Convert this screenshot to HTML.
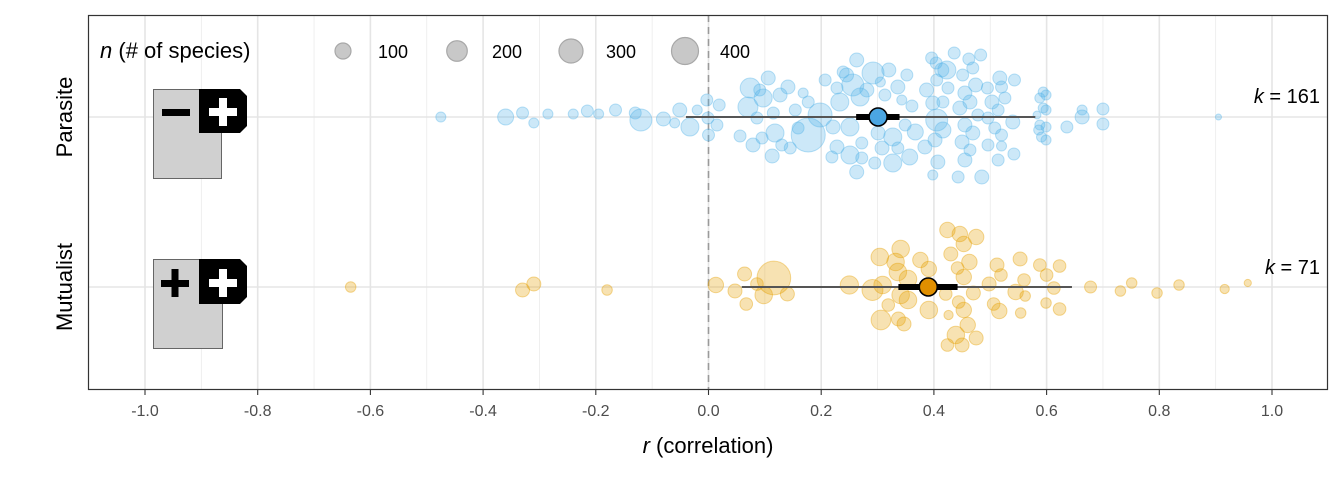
<!DOCTYPE html>
<html><head><meta charset="utf-8"><style>
body{margin:0;background:#fff}
svg{display:block;font-family:"Liberation Sans",sans-serif}
</style></head><body>
<svg id="chart" width="1344" height="480" viewBox="0 0 1344 480">
<rect x="0" y="0" width="1344" height="480" fill="#fff"/>
<g id="grid"></g>
<g id="marks"></g>
<rect x="88.5" y="15.5" width="1239" height="374" fill="none" stroke="#333" stroke-width="1.2"/>
<g id="axis"></g>
<text x="708" y="453" font-size="22" text-anchor="middle" fill="#000"><tspan font-style="italic">r</tspan> (correlation)</text>
<text transform="translate(72,117) rotate(-90)" font-size="22" text-anchor="middle">Parasite</text>
<text transform="translate(72,287) rotate(-90)" font-size="22" text-anchor="middle">Mutualist</text>
<text x="1320" y="103" font-size="20" text-anchor="end"><tspan font-style="italic">k</tspan> = 161</text>
<text x="1320" y="274" font-size="20" text-anchor="end"><tspan font-style="italic">k</tspan> = 71</text>
<g>
<rect x="153.5" y="89.5" width="68" height="89" fill="#d0d0d0" stroke="#666"/>
<path d="M199 89 H240 L247 96 V126 L240 133 H199 Z" fill="#000"/>
<rect x="162" y="109" width="28" height="7" fill="#000"/>
<rect x="209" y="108" width="28" height="8" fill="#fff"/>
<rect x="219" y="98" width="8" height="28" fill="#fff"/>
</g>
<g>
<rect x="153.5" y="259.5" width="69" height="89" fill="#d0d0d0" stroke="#666"/>
<path d="M199 259 H240 L247 266 V297 L240 304 H199 Z" fill="#000"/>
<rect x="161" y="280" width="28" height="7" fill="#000"/>
<rect x="171.5" y="269" width="7" height="28" fill="#000"/>
<rect x="209" y="279" width="28" height="8" fill="#fff"/>
<rect x="219" y="269" width="8" height="28" fill="#fff"/>
</g>
<g id="legend">
<text x="100" y="58" font-size="22"><tspan font-style="italic">n</tspan> (# of species)</text>
</g>
</svg>
<script>
const xTicks=[-1.0,-0.8,-0.6,-0.4,-0.2,0.0,0.2,0.4,0.6,0.8,1.0];
const xTickLabels=["-1.0","-0.8","-0.6","-0.4","-0.2","0.0","0.2","0.4","0.6","0.8","1.0"];
const xMinor=[-0.9,-0.7,-0.5,-0.3,-0.1,0.1,0.3,0.5,0.7,0.9];
const groups=["Parasite","Mutualist"];
const legendN=[100,200,300,400];
// summary: mean, thick lo/hi, thin lo/hi
const parasiteSummary=[0.301,0.262,0.339,-0.040,0.580];
const mutualistSummary=[0.39,0.337,0.442,0.059,0.645];
// points: [r, jitter(px), n]
const parasitePts=[[-0.475,0,21],[-0.36,0,100],[-0.33,-4,40],[-0.31,6,21],[-0.285,-3,21],[-0.24,-3,21],[-0.215,-6,40],[-0.195,-3,21],[-0.165,-7,40],[-0.12,3,239],[-0.13,-4,40],[-0.08,2,67],[-0.06,6,21],
[-0.051,-7,67],[-0.033,10,140],[-0.003,-17,40],[-0.001,1,40],[0,18,40],[-0.02,-7,21],[0.019,-12,40],[0.015,8,40],[0.074,-29,186],[0.07,-10,186],[0.097,-19,140],[0.106,-39,67],[0.091,-27,40],[0.127,-22,67],[0.141,-30,67],[0.168,-24,21],[0.177,-15,40],[0.154,-7,40],[0.115,-4,40],[0.086,1,40],[0.056,19,40],[0.079,28,67],[0.095,21,40],[0.118,16,140],[0.13,28,40],[0.145,31,40],[0.113,39,67],[0.159,11,40],[0.177,18,695],[0.198,-2,298],[0.207,-37,40],[0.228,-29,40],[0.233,-15,140],[0.239,-45,40],[0.256,-32,239],[0.263,-57,67],[0.245,-42,67],[0.269,-20,140],[0.292,-44,239],[0.281,-27,67],[0.305,-35,21],[0.32,-47,67],[0.336,-30,67],[0.352,-42,40],[0.313,-22,40],[0.343,-17,21],[0.361,-11,40],[0.221,10,67],[0.251,10,140],[0.228,30,67],[0.219,40,40],[0.251,38,140],[0.263,55,67],[0.272,26,40],[0.272,41,40],[0.295,46,40],[0.308,31,67],[0.301,16,67],[0.327,20,140],[0.327,46,140],[0.336,31,40],[0.357,40,100],[0.367,15,100],[0.349,8,40],[0.384,30,67],[0.398,58,21],[0.407,45,67],[0.402,23,67],[0.416,13,100],[0.405,3,239],[0.396,-59,40],[0.404,-54,40],[0.414,-47,67],[0.423,-47,140],[0.436,-64,40],[0.451,-42,40],[0.462,-58,40],[0.469,-49,40],[0.483,-62,40],[0.387,-27,67],[0.405,-37,40],[0.425,-29,40],[0.398,-14,67],[0.416,-15,40],[0.446,-9,67],[0.455,-24,67],[0.464,-15,67],[0.474,-32,67],[0.495,-29,40],[0.517,-39,67],[0.52,-30,40],[0.543,-37,40],[0.503,-15,67],[0.526,-19,40],[0.514,-7,40],[0.478,-2,40],[0.496,1,40],[0.54,5,67],[0.455,8,67],[0.469,16,67],[0.45,25,67],[0.464,33,40],[0.455,43,67],[0.485,60,67],[0.443,60,40],[0.496,28,40],[0.508,11,40],[0.52,18,40],[0.52,29,21],[0.514,43,40],[0.542,37,40],[0.594,-25,21],[0.599,-22,21],[0.588,-19,21],[0.594,-9,21],[0.599,-7,21],[0.583,-2,7],[0.588,8,21],[0.599,10,21],[0.586,13,21],[0.591,20,21],[0.599,23,21],[0.636,10,40],[0.663,-7,21],[0.663,0,67],[0.7,-8,40],[0.7,7,40],[0.905,0,1]];
const mutualistPts=[[-0.635,0,25],[-0.33,3,67],[-0.31,-3,67],[-0.18,3,25],[0.013,-2,90],[0.047,4,67],[0.064,-13,67],[0.067,17,48],[0.086,-3,48],[0.098,8,130],[0.116,-9,680],[0.14,7,67],[0.25,-2,145],[0.291,3,210],[0.309,-2,130],[0.304,-30,130],[0.341,-38,130],[0.332,-25,130],[0.336,-15,130],[0.354,-8,130],[0.341,8,130],[0.354,13,130],[0.319,18,48],[0.306,33,177],[0.337,32,67],[0.347,37,67],[0.376,-27,90],[0.391,-18,90],[0.391,23,130],[0.421,7,48],[0.424,-57,90],[0.446,-53,90],[0.475,-50,90],[0.453,-43,90],[0.43,-33,67],[0.463,-25,90],[0.442,-19,48],[0.453,-10,90],[0.426,28,15],[0.444,15,48],[0.453,23,90],[0.46,38,90],[0.439,48,130],[0.475,51,67],[0.424,58,48],[0.45,58,67],[0.47,6,67],[0.498,-3,67],[0.512,-22,67],[0.519,-12,48],[0.506,17,48],[0.516,24,90],[0.545,5,90],[0.553,-28,67],[0.56,-7,48],[0.562,9,25],[0.554,26,25],[0.588,-22,48],[0.6,-12,48],[0.613,1,48],[0.599,16,25],[0.623,-21,48],[0.623,22,48],[0.678,0,40],[0.731,4,25],[0.751,-4,25],[0.796,6,25],[0.835,-2,25],[0.916,2,15],[0.957,-4,4]];

const NS='http://www.w3.org/2000/svg';
function X(v){return 708.5+v*563.5;}
function Y(g){return g===0?117:287;}
function R(n){return 2.5+0.55*Math.sqrt(n);}
function mk(tag,attrs,parent){const e=document.createElementNS(NS,tag);for(const k in attrs)e.setAttribute(k,attrs[k]);parent.appendChild(e);return e;}
const grid=document.getElementById('grid'),marks=document.getElementById('marks'),axis=document.getElementById('axis'),legend=document.getElementById('legend');
xMinor.forEach(v=>{const l=mk('line',{x1:X(v),x2:X(v),y1:15,y2:390,stroke:'#ebebeb','stroke-width':0.8},grid);

});
xTicks.forEach((v,i)=>{const l=mk('line',{x1:X(v),x2:X(v),y1:15,y2:390,stroke:'#e5e5e5','stroke-width':1.6},grid);


const t=mk('line',{x1:X(v),x2:X(v),y1:390,y2:395,stroke:'#333','stroke-width':1.1},axis);


const tx=mk('text',{x:X(v),y:416,'font-size':16,'text-anchor':'middle',fill:'#4d4d4d'},axis);
tx.textContent=xTickLabels[i];

});
groups.forEach((g,i)=>{const l=mk('line',{x1:88,x2:1328,y1:Y(i),y2:Y(i),stroke:'#e5e5e5','stroke-width':1.6},grid);

});
const z=mk('line',{x1:X(0),x2:X(0),y1:15,y2:390,stroke:'#9a9a9a','stroke-width':1.6,'stroke-dasharray':'7,5'},grid);


function drawPts(pts,gi,fill,stroke,name){pts.forEach(p=>{const c=mk('circle',{cx:X(p[0]),cy:Y(gi)+p[1],r:R(p[2]),fill:fill,'fill-opacity':0.3,stroke:stroke,'stroke-opacity':0.4,'stroke-width':1},marks);

});}
drawPts(parasitePts,0,'#56B4E9','#56B4E9','parasite-point');
drawPts(mutualistPts,1,'#E69F00','#E69F00','mutualist-point');
function drawSum(s,gi,fill,name){const y=Y(gi);
const a=mk('line',{x1:X(s[3]),x2:X(s[4]),y1:y,y2:y,stroke:'#555','stroke-width':2},marks);


const b=mk('line',{x1:X(s[1]),x2:X(s[2]),y1:y,y2:y,stroke:'#000','stroke-width':6},marks);


const c=mk('circle',{cx:X(s[0]),cy:y,r:9,fill:fill,stroke:'#000','stroke-width':1.6},marks);

}
drawSum(parasiteSummary,0,'#4BA6E2','parasite');
drawSum(mutualistSummary,1,'#E08F00','mutualist');
legendN.forEach((n,i)=>{const cx=343+i*114;
const c=mk('circle',{cx:cx,cy:51,r:R(n),fill:'#c8c8c8',stroke:'#a8a8a8','stroke-width':1.2},legend);


const t=mk('text',{x:cx+35,y:58,'font-size':18},legend);
t.textContent=String(n);

});
</script>
</body></html>
